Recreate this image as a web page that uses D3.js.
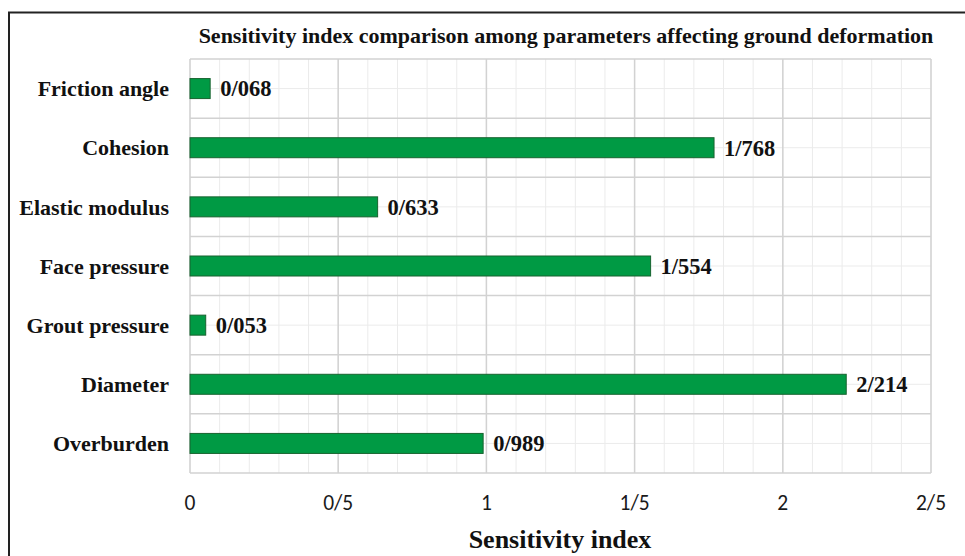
<!DOCTYPE html>
<html><head><meta charset="utf-8">
<script src="https://cdn.jsdelivr.net/npm/d3@7"></script>
<style>body{margin:0;background:#fff}svg{display:block}</style>
</head><body>
<svg id="c" width="965" height="556"></svg>
<script>
const categories = ["Friction angle","Cohesion","Elastic modulus","Face pressure","Grout pressure","Diameter","Overburden"];
const values = [0.068, 1.768, 0.633, 1.554, 0.053, 2.214, 0.989];
const valueLabels = ["0/068","1/768","0/633","1/554","0/053","2/214","0/989"];
const tickValues = [0, 0.5, 1, 1.5, 2, 2.5];
const tickLabels = ["0","0/5","1","1/5","2","2/5"];
const title = "Sensitivity index comparison among parameters affecting ground deformation";
const xTitle = "Sensitivity index";

const svg = d3.select("#c");
const m = {l:190, r:931, t:59, b:473};
const serif = "'Liberation Serif','Times New Roman',serif";
const sans = "Carlito,'Liberation Sans','Open Sans',sans-serif";

svg.append("line").attr("x1",8).attr("x2",965).attr("y1",12.5).attr("y2",12.5).attr("stroke","#222").attr("stroke-width",2);
svg.append("line").attr("x1",9).attr("x2",9).attr("y1",12).attr("y2",556).attr("stroke","#222").attr("stroke-width",2);

const x = d3.scaleLinear().domain([0,2.5]).range([m.l,m.r]);
const y = d3.scaleBand().domain(categories).range([m.t,m.b]);

const g = svg.append("g");
g.selectAll(".vmin").data(d3.range(0,26).map(i=>i/10)).join("line")
  .attr("x1",d=>x(d)).attr("x2",d=>x(d)).attr("y1",m.t).attr("y2",m.b)
  .attr("stroke","#ebebeb").attr("stroke-width",1);
g.selectAll(".hmin").data(categories).join("line")
  .attr("x1",m.l).attr("x2",m.r).attr("y1",d=>y(d)+y.bandwidth()/2).attr("y2",d=>y(d)+y.bandwidth()/2)
  .attr("stroke","#ebebeb").attr("stroke-width",1);
g.selectAll(".vmaj").data(tickValues).join("line")
  .attr("x1",d=>x(d)).attr("x2",d=>x(d)).attr("y1",m.t).attr("y2",m.b)
  .attr("stroke","#d2d2d2").attr("stroke-width",1.5);
g.selectAll(".hmaj").data(d3.range(categories.length+1)).join("line")
  .attr("x1",m.l).attr("x2",m.r).attr("y1",i=>m.t+i*y.step()).attr("y2",i=>m.t+i*y.step())
  .attr("stroke","#d2d2d2").attr("stroke-width",1.5);

const bh = 20;
svg.selectAll(".bar").data(values).join("rect")
  .attr("x",x(0)).attr("y",(d,i)=>y(categories[i])+y.bandwidth()/2-bh/2)
  .attr("width",d=>x(d)-x(0)).attr("height",bh)
  .attr("fill","#009a44").attr("stroke","#17632f").attr("stroke-width",1);

svg.selectAll(".vl").data(values).join("text")
  .attr("x",d=>x(d)+10).attr("y",(d,i)=>y(categories[i])+y.bandwidth()/2)
  .attr("dy","0.35em").attr("font-family",serif).attr("font-weight","bold").attr("font-size",22.5)
  .attr("fill","#111").text((d,i)=>valueLabels[i]);

svg.selectAll(".cl").data(categories).join("text")
  .attr("x",169).attr("y",d=>y(d)+y.bandwidth()/2).attr("dy","0.35em")
  .attr("text-anchor","end").attr("font-family",serif).attr("font-weight","bold").attr("font-size",22)
  .attr("fill","#111").text(d=>d);

svg.selectAll(".tl").data(tickValues).join("text")
  .attr("x",d=>x(d)).attr("y",510).attr("text-anchor","middle")
  .attr("font-family",sans).attr("font-size",21.5).attr("fill","#1a1a1a")
  .text((d,i)=>tickLabels[i]);

svg.append("text").attr("x",566).attr("y",43).attr("text-anchor","middle")
  .attr("font-family",serif).attr("font-weight","bold").attr("font-size",22).attr("fill","#111").text(title);
svg.append("text").attr("x",560).attr("y",548).attr("text-anchor","middle")
  .attr("font-family",serif).attr("font-weight","bold").attr("font-size",26).attr("fill","#111").text(xTitle);
</script>
</body></html>
